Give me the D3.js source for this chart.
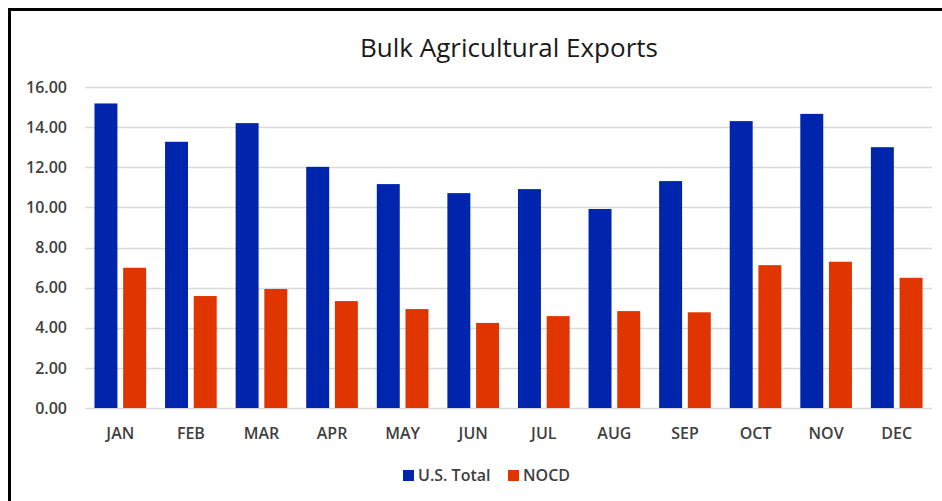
<!DOCTYPE html>
<html>
<head>
<meta charset="utf-8">
<script src="https://cdn.jsdelivr.net/npm/d3@7"></script>
<style>
  body { margin: 0; background: #fff; }
  text { font-family: "Open Sans", "Noto Sans", sans-serif; }
</style>
</head>
<body>
<div id="chart"></div>
<script>
// data
var months = ["JAN", "FEB", "MAR", "APR", "MAY", "JUN", "JUL", "AUG", "SEP", "OCT", "NOV", "DEC"];
var usTotal = [15.18, 13.27, 14.2, 12.02, 11.16, 10.71, 10.91, 9.92, 11.31, 14.3, 14.66, 13.0];
var nocd = [6.99, 5.58, 5.93, 5.33, 4.93, 4.24, 4.58, 4.83, 4.77, 7.12, 7.29, 6.49];
var seriesNames = ["U.S. Total", "NOCD"];
var yTicks = [0, 2, 4, 6, 8, 10, 12, 14, 16];

var width = 942, height = 501;
var colors = ["#0025ad", "#e13500"];
var labelColor = "#404040";

var svg = d3.select("#chart")
            .append("svg")
            .attr("width", width).attr("height", height);

// frame (only left and top edge are inside the picture)
svg.append("rect")
   .attr("x", 9.5).attr("y", 9.5)
   .attr("width", 960).attr("height", 520)
   .attr("fill", "none").attr("stroke", "#000").attr("stroke-width", 3);

var x0 = d3.scaleBand().domain(months).range([85, 932]).paddingInner(0).paddingOuter(0);
var x1 = d3.scaleBand().domain(seriesNames).range([0, x0.bandwidth()]).paddingInner(0.2).paddingOuter(0.33);
var y = d3.scaleLinear().domain([0, 16]).range([408, 87]);

// gridlines
svg.append("g")
   .selectAll("line")
   .data(yTicks)
   .enter()
   .append("line")
   .attr("x1", 85).attr("x2", 932)
   .attr("y1", function(d) { return Math.round(y(d)) + 0.5; })
   .attr("y2", function(d) { return Math.round(y(d)) + 0.5; })
   .attr("stroke", "#d9d9d9").attr("stroke-width", 1.3);

// y labels
var yAxis = d3.axisLeft(y).tickValues(yTicks).tickFormat(d3.format(".2f")).tickSize(0).tickPadding(0);
var gy = svg.append("g").attr("transform", "translate(67,0)").call(yAxis);
gy.select(".domain").remove();
gy.selectAll("text").attr("font-size", 16).attr("fill", labelColor)
  .attr("font-weight", 600).attr("font-family", "Open Sans");

// x labels
var xAxis = d3.axisBottom(x0).tickSize(0).tickPadding(0);
var gx = svg.append("g").attr("transform", "translate(0,428)").call(xAxis);
gx.select(".domain").remove();
gx.selectAll("text").attr("font-size", 16).attr("fill", labelColor)
  .attr("font-weight", 600).attr("font-family", "Open Sans");

// bars
var series = [usTotal, nocd];
series.forEach(function(vals, i) {
  svg.append("g")
     .selectAll("rect")
     .data(vals)
     .enter()
     .append("rect")
     .attr("x", function(d, j) { return x0(months[j]) + x1(seriesNames[i]); })
     .attr("y", function(d) { return y(d); })
     .attr("width", x1.bandwidth())
     .attr("height", function(d) { return y(0) - y(d); })
     .attr("fill", colors[i]);
});

// title
svg.append("text")
   .attr("x", 509).attr("y", 57)
   .attr("text-anchor", "middle")
   .attr("font-size", 26)
   .attr("fill", "#1a1a1a")
   .text("Bulk Agricultural Exports");

// legend
var legendX = [403, 508];
var legend = svg.append("g");
seriesNames.forEach(function(name, i) {
  legend.append("rect")
        .attr("x", legendX[i]).attr("y", 470)
        .attr("width", 11).attr("height", 11)
        .attr("fill", colors[i]);
  legend.append("text")
        .attr("x", legendX[i] + 15).attr("y", 481)
        .attr("font-size", 16).attr("font-weight", 600).attr("fill", labelColor)
        .text(name);
});
</script>
</body>
</html>
